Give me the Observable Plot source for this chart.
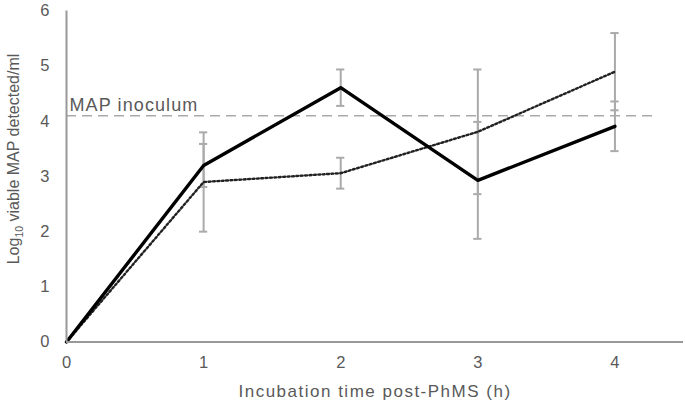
<!DOCTYPE html>
<html><head><meta charset="utf-8">
<script src="https://cdn.jsdelivr.net/npm/d3@7"></script>
<script src="https://cdn.jsdelivr.net/npm/@observablehq/plot@0.6"></script>
<style>body{margin:0;background:#fff}</style>
</head><body><div id="chart"></div>
<script>
// ---- data ----
const times = [0, 1, 2, 3, 4];
const solidMeans = [0, 3.2, 4.61, 2.93, 3.91];
const solidErr = [0, 0.39, 0.33, 1.06, 0.45];
const dottedMeans = [0, 2.9, 3.06, 3.81, 4.9];
const dottedErr = [0, 0.9, 0.28, 1.13, 0.7];
const inoculum = 4.1;
const inoculumSpan = [0, 4.3];
const xAxisSpan = [0, 4.5];
const yAxisSpan = [0, 6];
const xTicks = [0, 1, 2, 3, 4];
const yTicks = [0, 1, 2, 3, 4, 5, 6];
const xLabel = "Incubation time post-PhMS (h)";
const inoculumLabel = "MAP inoculum";

// ---- derived tables ----
const solid = times.map((t, i) => ({t, v: solidMeans[i], e: solidErr[i]}));
const dotted = times.map((t, i) => ({t, v: dottedMeans[i], e: dottedErr[i]}));
const bars = [...solid, ...dotted].filter(d => d.e > 0);
const caps = bars.flatMap(d => [{t: d.t, y: d.v - d.e}, {t: d.t, y: d.v + d.e}]);
const capHalf = 0.03;

const font = "'Liberation Sans', Arial, sans-serif";
const textColor = "#595959";

const chart = Plot.plot({
  width: 685,
  height: 405,
  marginLeft: 66, marginRight: 2, marginTop: 10.5, marginBottom: 63.5,
  style: {fontFamily: font, background: "#fff", color: textColor},
  x: {domain: [0, 4.5], range: [66, 683]},
  y: {domain: [0, 6], range: [341.5, 10.5]},
  marks: [
    Plot.ruleY([inoculum], {x1: inoculumSpan[0], x2: inoculumSpan[1], stroke: "#aaa", strokeWidth: 1.6, strokeDasharray: "10,6"}),
    Plot.text([inoculumLabel], {x: 0, y: inoculum, text: d => d, textAnchor: "start", lineAnchor: "bottom", dx: 3, dy: -5, fontSize: 18, fill: textColor}),
    Plot.ruleX(bars, {x: "t", y1: d => d.v - d.e, y2: d => d.v + d.e, stroke: "#aaa", strokeWidth: 2}),
    Plot.ruleY(caps, {y: "y", x1: d => d.t - capHalf, x2: d => d.t + capHalf, stroke: "#aaa", strokeWidth: 2}),
    Plot.line(dotted, {x: "t", y: "v", stroke: "#222", strokeWidth: 2.4, strokeDasharray: "2,2.4"}),
    Plot.line(solid, {x: "t", y: "v", stroke: "#000", strokeWidth: 3.4}),
    Plot.ruleX([0], {y1: yAxisSpan[0], y2: yAxisSpan[1], stroke: "#999", strokeWidth: 2}),
    Plot.ruleY([0], {x1: xAxisSpan[0], x2: xAxisSpan[1], stroke: "#999", strokeWidth: 2}),
    Plot.axisX({ticks: xTicks, tickSize: 0, tickPadding: 14, fontSize: 16.5, tickFormat: d => d, label: xLabel, labelAnchor: "center", labelOffset: 55, labelArrow: "none"}),
    Plot.axisY({ticks: yTicks, tickSize: 0, tickPadding: 17, fontSize: 16.5, tickFormat: d => d, label: null})
  ]
});
document.getElementById("chart").appendChild(chart);

const svg = d3.select(chart);
svg.selectAll("text").filter(function() { return this.textContent === inoculumLabel; })
  .style("letter-spacing", "1.1px");
svg.selectAll("g[aria-label='x-axis label']").attr("font-size", 17).style("letter-spacing", "1.5px");

// y-axis label with subscript
const yl = svg.append("text")
  .attr("transform", "translate(19,159) rotate(-90)")
  .attr("text-anchor", "middle")
  .attr("fill", textColor)
  .attr("font-size", 16)
  .attr("font-family", font);
yl.append("tspan").text("Log");
yl.append("tspan").attr("font-size", 10.5).attr("dy", 4).text("10");
yl.append("tspan").attr("dy", -4).text(" viable MAP detected/ml");
</script>
</body></html>
